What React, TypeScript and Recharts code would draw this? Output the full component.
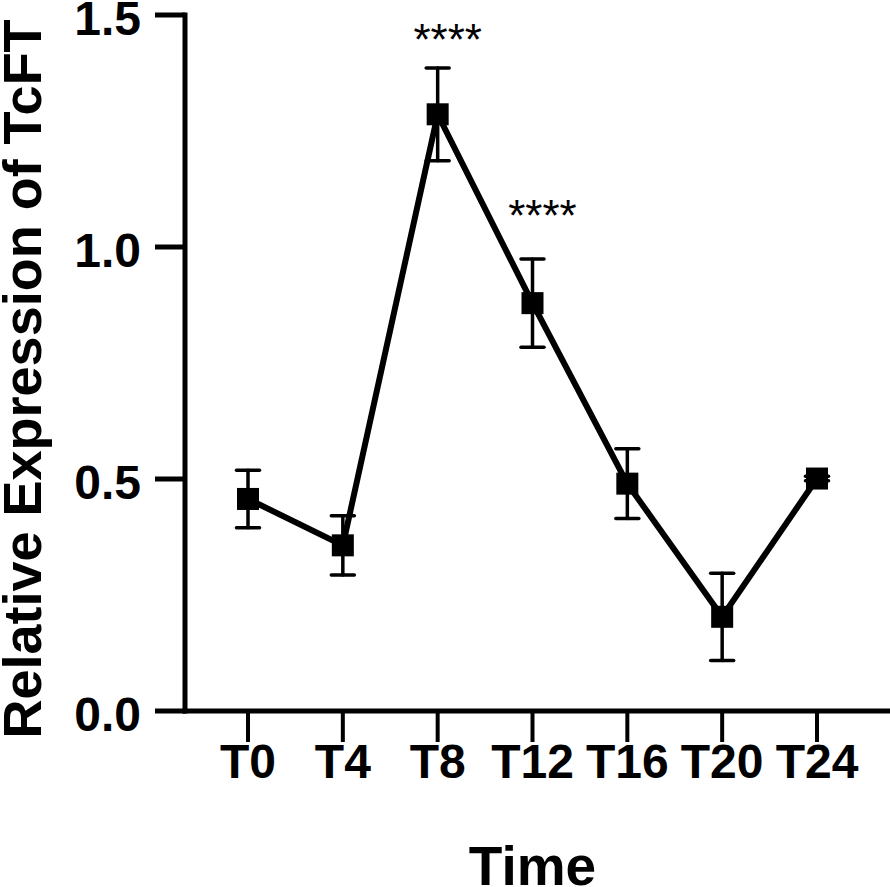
import React from "react";
import {
  LineChart,
  Line,
  XAxis,
  YAxis,
  ErrorBar,
  LabelList,
  Label,
} from "recharts";

// values
const times = ["T0", "T4", "T8", "T12", "T16", "T20", "T24"];
const means = [0.457, 0.357, 1.286, 0.879, 0.49, 0.203, 0.501];
const errors = [0.062, 0.064, 0.1, 0.095, 0.075, 0.094, 0.005];
const sigLabels = ["", "", "****", "****", "", "", ""];
const sigHeights = [null, null, 1.468, 1.089, null, null, null];
const yTicks = [0, 0.5, 1.0, 1.5];

const data = times.map((t, i) => ({
  time: t,
  mean: means[i],
  err: errors[i],
  sig: sigHeights[i],
  stars: sigLabels[i],
}));

const FONT = '"Liberation Sans", Arial, Helvetica, sans-serif';
const PAD_LEFT = 63;
const PAD_RIGHT = 71;

const SquareDot = (props: any) => {
  const { cx, cy } = props;
  if (cx == null || cy == null) return null;
  return <rect x={cx - 11} y={cy - 11} width={22} height={22} fill="#000" />;
};

const XTick = (props: any) => {
  const { x, y, payload } = props;
  return (
    <text
      x={x}
      y={y + 34}
      textAnchor="middle"
      fontFamily={FONT}
      fontWeight="bold"
      fontSize={48}
      fill="#000"
    >
      {payload.value}
    </text>
  );
};

const YTick = (props: any) => {
  const { x, y, payload } = props;
  return (
    <text
      x={x}
      y={y + 20}
      textAnchor="end"
      fontFamily={FONT}
      fontWeight="bold"
      fontSize={48}
      fill="#000"
    >
      {Number(payload.value).toFixed(1)}
    </text>
  );
};

const YTitle = (props: any) => {
  const vb = props.viewBox;
  const x = vb.x + 41;
  const y = vb.y + vb.height / 2 + 16;
  return (
    <text
      x={x}
      y={y}
      transform={`rotate(-90, ${x}, ${y})`}
      textAnchor="middle"
      fontFamily={FONT}
      fontWeight="bold"
      fontSize={54}
      fill="#000"
    >
      Relative Expression of TcFT
    </text>
  );
};

const XTitle = (props: any) => {
  const vb = props.viewBox;
  const x = vb.x + PAD_LEFT + (vb.width - PAD_LEFT - PAD_RIGHT) / 2;
  const y = vb.y + 174;
  return (
    <text
      x={x}
      y={y}
      textAnchor="middle"
      fontFamily={FONT}
      fontWeight="bold"
      fontSize={55}
      fill="#000"
    >
      Time
    </text>
  );
};

const Stars = (props: any) => {
  const { x, y, value } = props;
  if (!value || x == null || y == null) return null;
  return (
    <text
      x={x + 10}
      y={y + 25}
      textAnchor="middle"
      fontFamily={FONT}
      fontSize={44}
      fill="#000"
    >
      {value}
    </text>
  );
};

export default function App() {
  return (
    <div style={{ position: "absolute", left: 0, top: 0, background: "#fff" }}>
      <LineChart
        width={890}
        height={887}
        data={data}
        margin={{ top: 15, right: 2, bottom: 0, left: 0 }}
      >
        <XAxis
          dataKey="time"
          type="category"
          scale="point"
          padding={{ left: PAD_LEFT, right: PAD_RIGHT }}
          height={176}
          axisLine={{ stroke: "#000", strokeWidth: 5, strokeLinecap: "square" }}
          tickLine={{ stroke: "#000", strokeWidth: 4 }}
          tickSize={31}
          tick={<XTick />}
          interval={0}
        >
          <Label content={<XTitle />} />
        </XAxis>
        <YAxis
          type="number"
          domain={[0, 1.5]}
          ticks={yTicks}
          width={185}
          axisLine={{ stroke: "#000", strokeWidth: 5, strokeLinecap: "square" }}
          tickLine={{ stroke: "#000", strokeWidth: 5 }}
          tickSize={30}
          tickMargin={14}
          tick={<YTick />}
          allowDataOverflow
        >
          <Label content={<YTitle />} />
        </YAxis>
        <Line
          dataKey="mean"
          stroke="#000"
          strokeWidth={6}
          dot={<SquareDot />}
          activeDot={false}
          isAnimationActive={false}
        >
          <ErrorBar
            dataKey="err"
            width={11.5}
            stroke="#000"
            strokeWidth={3.5}
            strokeLinecap="round"
            isAnimationActive={false}
          />
        </Line>
        <Line
          dataKey="sig"
          stroke="none"
          dot={false}
          activeDot={false}
          isAnimationActive={false}
        >
          <LabelList dataKey="stars" content={<Stars />} />
        </Line>
      </LineChart>
    </div>
  );
}
